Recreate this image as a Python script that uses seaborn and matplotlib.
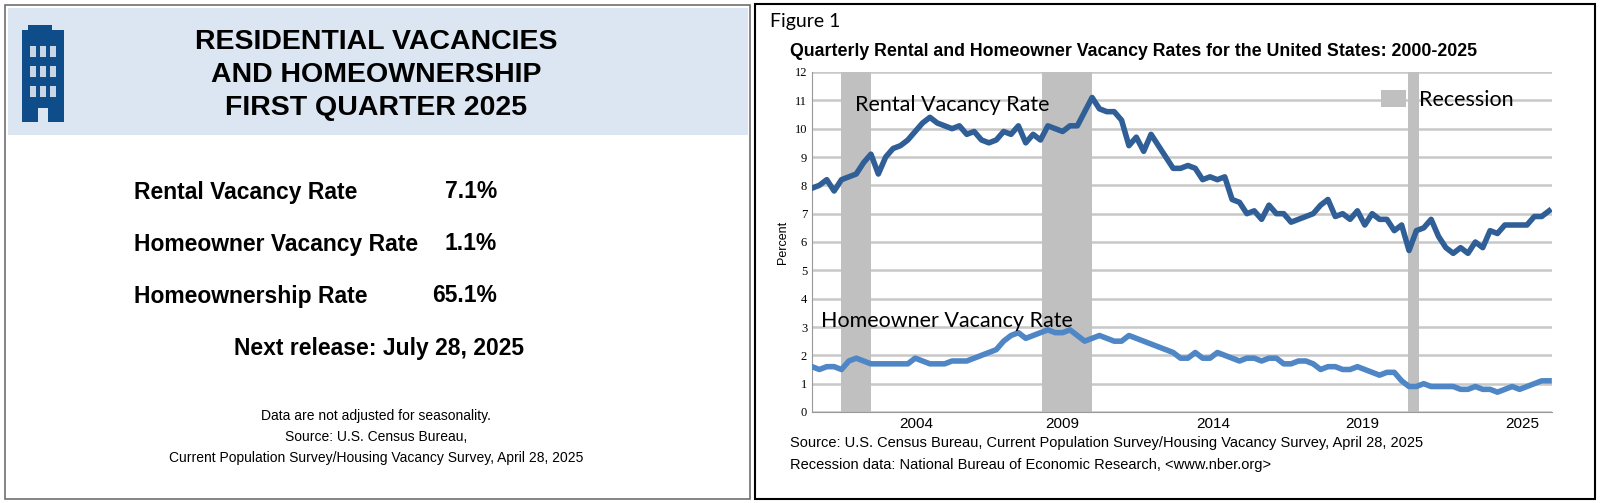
import numpy as np
import pandas as pd
import matplotlib
matplotlib.use("Agg")
import matplotlib.pyplot as plt
import seaborn as sns
from matplotlib.patches import Rectangle

# quarterly 2000Q1 .. 2025Q1
rental = [7.9, 8.0, 8.2, 7.8, 8.2, 8.3, 8.4, 8.8, 9.1, 8.4, 9.0, 9.3, 9.4, 9.6, 9.9, 10.2,
          10.4, 10.2, 10.1, 10.0, 10.1, 9.8, 9.9, 9.6, 9.5, 9.6, 9.9, 9.8, 10.1, 9.5, 9.8, 9.6,
          10.1, 10.0, 9.9, 10.1, 10.1, 10.6, 11.1, 10.7, 10.6, 10.6, 10.3, 9.4, 9.7, 9.2, 9.8, 9.4,
          9.0, 8.6, 8.6, 8.7, 8.6, 8.2, 8.3, 8.2, 8.3, 7.5, 7.4, 7.0, 7.1, 6.8, 7.3, 7.0,
          7.0, 6.7, 6.8, 6.9, 7.0, 7.3, 7.5, 6.9, 7.0, 6.8, 7.1, 6.6, 7.0, 6.8, 6.8, 6.4,
          6.6, 5.7, 6.4, 6.5, 6.8, 6.2, 5.8, 5.6, 5.8, 5.6, 6.0, 5.8, 6.4, 6.3, 6.6, 6.6,
          6.6, 6.6, 6.9, 6.9, 7.1]
homeowner = [1.6, 1.5, 1.6, 1.6, 1.5, 1.8, 1.9, 1.8, 1.7, 1.7, 1.7, 1.7, 1.7, 1.7, 1.9, 1.8,
             1.7, 1.7, 1.7, 1.8, 1.8, 1.8, 1.9, 2.0, 2.1, 2.2, 2.5, 2.7, 2.8, 2.6, 2.7, 2.8,
             2.9, 2.8, 2.8, 2.9, 2.7, 2.5, 2.6, 2.7, 2.6, 2.5, 2.5, 2.7, 2.6, 2.5, 2.4, 2.3,
             2.2, 2.1, 1.9, 1.9, 2.1, 1.9, 1.9, 2.1, 2.0, 1.9, 1.8, 1.9, 1.9, 1.8, 1.9, 1.9,
             1.7, 1.7, 1.8, 1.8, 1.7, 1.5, 1.6, 1.6, 1.5, 1.5, 1.6, 1.5, 1.4, 1.3, 1.4, 1.4,
             1.1, 0.9, 0.9, 1.0, 0.9, 0.9, 0.9, 0.9, 0.8, 0.8, 0.9, 0.8, 0.8, 0.7, 0.8, 0.9,
             0.8, 0.9, 1.0, 1.1, 1.1]
recessions = [(2001.0, 2002.0), (2007.8, 2009.5), (2020.2, 2020.6)]
tick_pos = [2003.55, 2008.5, 2013.6, 2018.65, 2024.1]
tick_labels = ["2004", "2009", "2014", "2019", "2025"]
summary_labels = ["Rental Vacancy Rate", "Homeowner Vacancy Rate", "Homeownership Rate"]
summary_values = ["7.1%", "1.1%", "65.1%"]

t = 2000 + np.arange(len(rental)) / 4
df = pd.DataFrame({"t": np.concatenate([t, t]),
                   "rate": rental + homeowner,
                   "series": ["Rental"] * len(t) + ["Homeowner"] * len(t)})

fig = plt.figure(figsize=(16, 5.03), dpi=100)

# ---- left info panel ----
L = fig.add_axes([0, 0, 0.47, 1])
L.set_xlim(0, 752); L.set_ylim(503, 0); L.axis("off")
L.add_patch(Rectangle((5, 5), 745, 494, fill=False, ec="#707070", lw=1.2))
L.add_patch(Rectangle((8, 8), 740, 127, fc="#dce6f2", ec="none"))
# building icon
L.add_patch(Rectangle((22, 30), 42, 92, fc="#0f4c8a", ec="none"))
L.add_patch(Rectangle((28, 25), 24, 8, fc="#0f4c8a", ec="none"))
for r in range(3):
    for c in range(3):
        L.add_patch(Rectangle((30 + c * 10, 46 + r * 20), 6, 11, fc="#c9d6e6", ec="none"))
L.add_patch(Rectangle((38, 108), 10, 14, fc="#dce6f2", ec="none"))
ff = "Liberation Sans"
for i, s in enumerate(["RESIDENTIAL VACANCIES", "AND HOMEOWNERSHIP", "FIRST QUARTER 2025"]):
    L.text(376, 42 + i * 33, s, ha="center", va="center", fontsize=20.5, weight="bold", family=ff)
for i, (lab, val) in enumerate(zip(summary_labels, summary_values)):
    y = 192 + i * 52
    L.text(134, y, lab, ha="left", va="center", fontsize=16.5, weight="bold", family=ff)
    L.text(497, y, val, ha="right", va="center", fontsize=16.5, weight="bold", family=ff)
L.text(379, 349, "Next release: July 28, 2025", ha="center", va="center", fontsize=16.5, weight="bold", family=ff)
for i, s in enumerate(["Data are not adjusted for seasonality.", "Source: U.S. Census Bureau,",
                       "Current Population Survey/Housing Vacancy Survey, April 28, 2025"]):
    L.text(376, 416 + i * 21, s, ha="center", va="center", fontsize=10, family=ff)

# ---- right chart panel ----
fig.patches.append(Rectangle((755 / 1600, 4 / 503), 840 / 1600, 495 / 503, transform=fig.transFigure,
                             fill=False, ec="black", lw=1.5))
fig.text(770 / 1600, 1 - 22 / 503, "Figure 1", fontsize=14, family="Lato", va="center")
fig.text(1133 / 1600, 1 - 52 / 503, "Quarterly Rental and Homeowner Vacancy Rates for the United States: 2000-2025",
         fontsize=12.8, weight="bold", family=ff, ha="center", va="center")

ax = fig.add_axes([812 / 1600, 1 - 412 / 503, 740 / 1600, 340 / 503])
for a, b in recessions:
    ax.axvspan(a, b, color="#c0c0c0", lw=0, zorder=1)
ax.set_ylim(0, 12); ax.set_xlim(2000, 2025.1)
ax.set_yticks(range(13))
ax.grid(axis="y", color="#c8c8c8", lw=1.8, zorder=0)
ax.set_axisbelow(True)
sns.lineplot(data=df, x="t", y="rate", hue="series", palette={"Rental": "#2f5f96", "Homeowner": "#4f86c6"},
             lw=4, legend=False, ax=ax, zorder=3)
for s in ["top", "right"]:
    ax.spines[s].set_visible(False)
ax.spines["left"].set_color("#999999"); ax.spines["bottom"].set_color("#999999")
ax.tick_params(length=0)
ax.set_yticklabels([str(i) for i in range(13)], family="Liberation Serif", fontsize=9)
ax.set_xticks(tick_pos)
ax.set_xticklabels(tick_labels, fontsize=11, family=ff)
ax.set_xlabel("")
ax.set_ylabel("Percent", fontsize=9, family=ff)
ax.text(2001.45, 10.85, "Rental Vacancy Rate", fontsize=15.5, family="Lato", va="center")
ax.text(2000.3, 3.2, "Homeowner Vacancy Rate", fontsize=15.5, family="Lato", va="center")
ax.add_patch(Rectangle((2019.3, 10.75), 0.85, 0.6, fc="#c0c0c0", ec="none"))
ax.text(2020.6, 11.0, "Recession", fontsize=15.5, family="Lato", va="center")
fig.text(790 / 1600, 1 - 443 / 503, "Source: U.S. Census Bureau, Current Population Survey/Housing Vacancy Survey, April 28, 2025",
         fontsize=10.5, family=ff, va="center")
fig.text(790 / 1600, 1 - 465 / 503, "Recession data: National Bureau of Economic Research, <www.nber.org>",
         fontsize=10.5, family=ff, va="center")

fig.savefig("out.png", dpi=100)
